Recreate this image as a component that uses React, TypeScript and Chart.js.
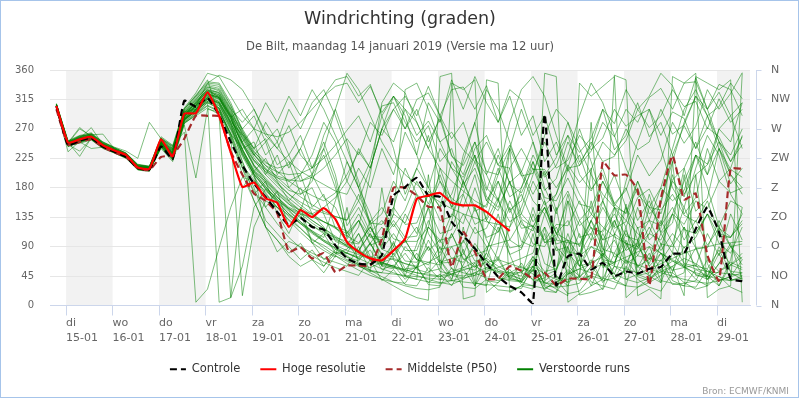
import React, { useEffect, useRef } from 'react';
import { Chart, registerables } from 'chart.js';

Chart.register(...registerables);

const titleText = 'Windrichting (graden)';
const subtitleText = 'De Bilt, maandag 14 januari 2019 (Versie ma 12 uur)';
const creditText = 'Bron: ECMWF/KNMI';

const dayNames = ['di', 'wo', 'do', 'vr', 'za', 'zo', 'ma', 'di', 'wo', 'do', 'vr', 'za', 'zo', 'ma', 'di'];
const dayDates = ['15-01', '16-01', '17-01', '18-01', '19-01', '20-01', '21-01', '22-01', '23-01', '24-01', '25-01', '26-01', '27-01', '28-01', '29-01'];
const dirLabels = ['N', 'NO', 'O', 'ZO', 'Z', 'ZW', 'W', 'NW', 'N'];

// hours relative to 15-01 00:00, 6-hourly output
const firstHour = -5;
const stepHours = 6;

const controle = [305,245,252,256,243,235,227,210,208,243, 224,313,304,317,291,250,214,186,166,143, 123,134,120,116,92,72,64,63,77,168, 181,195,168,166,128,107,87,64,44,30, 20,4,292,31,75,79,55,65,45,52, 49,56,59,79,80,117,150,112,41,37];
const hogeResolutie = [305,249,254,258,245,237,230,211,209,254, 228,293,294,326,290,234,181,188,164,157, 120,146,135,149,132,97,82,72,69,84, 102,163,168,172,157,153,153,143,128,114];
const middelste = [300,246,250,254,242,234,227,210,207,227, 230,255,290,290,289,235,200,171,160,141, 82,89,72,80,51,61,61,61,102,180, 180,168,151,149,59,112,82,41,41,60, 53,41,50,31,41,41,41,220,199,200, 176,31,163,229,162,171,77,38,209,209];

const run01 = [308,250,256,260,246,238,231,213,211,250, 231,296,300,322,301,262,214,192,170,150, 131,118,100,92,80,70,62,58,66,72, 64,58,90,52,48,45,50,42,38,45, 52,60,48,40,36,44,58,62,48,40, 35,42,55,68,60,48,40,52,66,58];
const run02 = [302,244,251,255,242,235,227,209,207,244, 228,288,312,330,318,280,238,205,182,160, 148,140,135,128,120,98,70,85,55,62, 40,58,35,48,30,62,95,68,55,48, 40,70,32,45,35,80,130,160,110,95, 60,45,70,38,30,55,45,90,62,80];
const run03 = [306,248,258,262,248,240,232,215,212,258, 245,265,5,25,88,150,196,190,175,160, 140,125,112,100,92,84,78,70,64,60, 55,50,48,45,52,58,66,72,60,50, 45,110,38,50,160,70,30,68,60,155, 48,40,95,42,50,200,64,30,62,55];
const run04 = [304,246,250,258,245,237,229,210,208,246, 224,282,298,312,5,12,60,150,178,165, 150,142,130,118,104,90,80,72,65,58, 52,46,40,35,32,40,50,58,50,44, 36,30,26,35,48,56,50,42,36,30, 28,35,46,60,72,64,52,44,38,45];
const run05 = [305,247,254,256,243,236,228,212,210,250, 236,300,320,345,290,12,180,205,190,170, 155,145,140,150,165,190,240,210,270,250, 300,280,240,290,230,200,250,180,160,210, 140,120,160,90,70,110,60,80,48,95, 60,70,130,95,150,110,140,95,80,120];
const run06 = [303,245,252,254,241,234,226,208,206,242, 222,278,292,310,300,260,15,120,160,150, 138,125,110,98,88,80,74,96,60,56, 90,70,120,96,140,125,180,130,165,100, 88,120,64,55,90,42,70,35,60,48, 90,64,110,80,58,88,40,64,95,40];
const run07 = [307,249,255,259,247,239,230,214,212,252, 238,302,325,355,350,320,290,270,262,258, 265,280,300,320,335,340,310,335,295,320, 280,250,275,220,240,185,210,160,190,142, 170,128,150,110,130,90,120,76,100,65, 95,60,80,52,90,60,110,76,140,100];
const run08 = [300,243,249,262,250,242,236,225,280,255, 240,284,305,340,352,345,330,300,265,240, 220,205,195,185,175,170,210,180,240,200, 265,230,310,280,345,300,350,310,280,320, 260,290,220,250,205,230,178,200,152,180, 130,160,112,140,100,130,92,118,105,125];
const run09 = [309,252,260,264,250,241,233,216,213,256, 242,292,310,332,325,296,250,215,195,175, 160,145,130,118,106,94,84,74,66,60, 54,50,46,44,48,54,60,66,70,64, 58,52,120,42,40,44,210,58,66,74, 82,90,80,68,58,50,45,40,38,42];
const run10 = [301,245,248,253,240,233,225,207,205,240, 220,276,195,300,296,262,240,205,225,190, 160,180,140,120,90,80,72,64,56,50, 44,40,36,34,38,42,46,52,58,65, 72,80,140,94,100,60,90,82,150,68, 62,56,50,45,40,36,34,38,44,50];
const run11 = [306,249,272,258,246,238,230,212,209,248, 232,290,304,318,308,272,232,200,180,162, 148,136,122,110,100,92,120,200,310,340, 325,280,240,210,190,175,160,150,200,280, 330,350,320,260,210,170,140,120,105,95, 90,110,160,220,280,320,300,250,200,170];
const run12 = [304,247,251,257,244,236,229,211,208,247, 230,285,296,315,310,278,250,270,230,250, 210,240,200,230,180,106,130,95,120,90, 140,110,175,150,220,190,240,260,215,245, 205,170,205,145,175,130,150,100,130,95, 86,120,84,110,88,104,140,120,160,150];
const run13 = [305,246,253,256,245,237,229,211,210,249, 234,295,314,334,328,300,280,300,260,240, 275,230,210,250,200,122,150,112,130,102, 96,120,84,100,72,66,90,54,70,42, 36,55,24,40,18,22,45,40,80,64, 76,110,100,140,124,160,148,190,172,180];
const run14 = [303,245,250,255,243,235,227,210,207,245, 227,283,300,316,300,256,210,175,150,125, 104,88,76,66,58,52,46,70,38,55, 32,30,58,40,48,56,30,58,52,46, 40,75,30,28,52,38,46,24,60,56, 50,80,38,34,30,28,55,38,44,70];
const run15 = [307,248,256,259,246,238,231,213,211,251, 237,298,318,338,335,305,270,240,220,205, 190,178,168,160,172,200,235,210,270,300, 320,290,335,290,255,280,225,200,240,185, 172,210,165,160,195,155,150,190,150,120, 165,178,140,192,210,250,200,270,290,240];
const run16 = [302,244,252,254,242,234,226,208,206,243, 225,280,294,306,298,264,220,170,190,140, 110,150,96,70,82,74,68,95,62,58, 54,80,52,56,110,70,78,84,130,88, 92,150,96,100,170,104,110,150,118,128, 190,140,155,230,170,200,215,250,230,270];
const run17 = [306,250,259,261,248,240,232,214,212,254, 240,296,308,328,322,292,240,250,200,230, 180,200,150,170,118,106,96,120,86,78, 100,70,62,90,56,50,46,70,42,40, 65,38,42,90,48,56,64,110,74,86, 150,100,118,200,140,165,240,190,210,260];
const run18 = [305,247,254,257,245,236,228,210,208,246, 229,287,302,320,315,285,248,222,208,198, 192,190,196,210,230,255,230,280,260,300, 270,315,325,290,330,334,300,336,280,330, 315,260,290,230,260,200,175,210,155,140, 180,130,122,150,116,110,140,106,104,130];
const run19 = [304,246,254,258,244,236,229,211,209,249, 232,291,306,324,318,288,230,200,150,175, 120,140,95,110,80,86,110,68,62,90, 56,58,100,66,72,78,120,90,95,100, 130,94,90,120,82,78,110,70,66,100, 58,90,52,50,120,46,44,80,40,38];
const run20 = [303,246,251,255,243,235,227,209,207,244, 226,284,298,312,305,275,238,208,186,166, 148,134,122,112,104,98,94,120,92,140, 330,340,300,250,210,180,230,160,145,190, 132,120,150,110,100,92,130,86,80,115, 76,72,68,95,64,60,56,85,52,50];
const run21 = [306,248,270,259,246,238,230,212,210,250, 235,294,312,330,324,294,255,222,200,182, 164,150,138,128,120,114,80,130,60,98, 45,94,150,70,40,86,30,82,140,78, 35,60,110,45,30,72,160,90,40,55, 120,60,35,80,200,90,45,30,70,150];
const run22 = [305,249,228,256,245,237,229,212,209,248, 231,288,304,322,316,286,246,214,192,174, 158,144,200,260,300,250,180,220,290,240, 170,210,260,190,150,230,280,200,160,240, 300,250,180,140,210,270,220,160,120,190, 250,300,240,180,150,210,260,230,170,140];
const run23 = [302,243,250,254,241,233,225,208,206,242, 224,279,290,302,292,258,200,160,120,100, 75,60,70,50,76,68,60,54,50,48, 46,44,42,40,38,36,34,32,30,28, 26,60,22,20,90,16,20,26,110,40, 48,56,64,72,80,86,90,94,96,98];
const run24 = [308,251,258,263,249,241,233,215,213,255, 243,300,322,342,340,310,268,236,214,196, 180,166,154,144,136,130,160,126,124,150, 124,126,170,130,136,190,144,154,210,166, 180,230,196,214,260,234,256,300,278,330, 300,320,355,336,290,348,300,326,290,310];
const run25 = [304,246,252,257,244,236,228,210,208,246, 229,286,300,318,312,282,260,230,250,200, 220,170,180,140,98,90,84,110,78,74, 100,70,66,62,90,58,54,80,52,50, 50,75,52,56,110,60,66,74,130,84, 96,170,110,126,210,144,164,240,186,210];
const run26 = [306,247,255,258,246,238,230,212,210,249, 233,292,308,326,320,290,265,240,255,215, 230,190,200,165,150,110,140,106,104,130, 104,106,150,110,116,170,124,134,190,146, 160,220,176,194,250,214,236,280,258,300, 280,318,332,300,340,342,300,338,330,290];
const run27 = [305,248,254,257,245,237,229,211,209,248, 232,290,306,324,318,288,248,214,192,172, 155,140,126,114,102,92,84,110,76,70, 64,60,120,210,160,80,60,50,75,40, 38,60,34,34,55,40,46,80,64,110, 90,150,124,190,166,230,216,270,250,310];
const run28 = [307,250,257,261,262,239,231,213,211,252, 239,297,316,336,332,302,262,230,210,192, 176,170,190,240,300,355,330,290,250,220, 200,185,170,158,148,140,134,128,124,120, 150,200,260,300,280,240,200,170,150,130, 110,95,80,70,62,56,52,50,48,46];
const run29 = [303,235,251,256,243,235,227,209,207,245, 227,284,298,314,306,272,234,202,178,156, 136,118,102,88,76,64,54,46,40,36, 34,60,32,30,58,28,26,40,24,22, 30,55,28,20,48,70,36,30,25,60, 40,28,22,50,35,25,30,45,28,20];
const run30 = [306,249,256,258,246,238,230,212,210,250, 234,292,310,328,322,292,270,290,250,270, 230,260,210,240,190,102,130,92,100,140, 126,170,150,190,164,150,200,130,112,150, 98,90,120,84,90,130,100,115,150,142, 190,150,146,170,138,128,160,110,104,140];
const run31 = [304,247,253,256,244,236,228,210,208,247, 230,289,304,322,318,290,256,230,214,204, 200,202,210,225,245,268,290,250,305,310, 270,300,250,285,228,214,250,205,200,240, 198,202,250,210,222,260,238,256,300,274, 290,300,260,296,286,240,272,258,220,246];
const run32 = [305,246,252,258,244,237,229,211,209,247, 231,287,302,320,312,280,238,200,120,82, 98,90,80,72,66,60,90,52,50,80, 52,58,66,76,110,72,58,90,42,38, 36,70,46,54,100,76,90,76,62,120, 44,38,60,32,34,38,70,52,62,74];
const run33 = [307,249,256,260,247,239,231,213,211,251, 236,293,310,329,326,298,262,234,218,210, 215,240,280,320,345,350,320,338,290,320, 300,260,282,250,265,238,220,250,214,210, 240,208,208,180,210,214,250,220,228,270, 238,250,300,262,276,320,290,304,340,316];
const run34 = [303,246,236,255,243,235,227,210,207,245, 226,283,297,312,302,268,228,196,172,150, 130,112,96,84,74,150,60,52,180,70, 45,40,200,60,38,120,35,30,90,240, 50,40,35,150,60,45,280,70,40,30, 100,45,35,220,60,40,30,120,50,40];
const run35 = [308,251,259,262,249,241,233,215,212,256, 244,301,320,340,338,306,266,232,208,188, 170,154,140,128,118,110,130,104,100,125, 98,98,120,100,104,140,110,118,160,128, 140,190,154,170,215,188,208,250,230,252, 300,272,290,330,304,312,270,316,280,300];
const run36 = [301,244,249,254,241,234,226,208,206,242, 223,279,292,305,296,262,210,160,120,100, 80,95,70,60,86,80,110,75,71,95, 68,66,90,65,66,100,68,72,120,78, 86,140,96,108,160,122,138,190,156,176, 230,198,222,280,248,274,330,300,324,356];
const run37 = [306,248,255,272,246,238,230,212,210,250, 234,291,309,327,320,290,250,220,205,195, 190,200,230,280,250,190,160,210,270,320, 290,230,180,150,170,220,280,330,300,250, 200,160,140,170,230,290,340,310,260,210, 170,150,180,240,300,330,290,240,200,180];
const run38 = [304,246,253,257,244,236,228,210,208,246, 229,286,300,318,310,278,220,180,130,110, 90,70,85,60,80,80,72,95,66,60, 80,55,50,70,46,42,65,38,35,55, 32,30,50,28,30,34,60,38,42,70, 46,50,80,54,58,62,40,64,90,62];
const run39 = [305,247,254,258,245,237,229,211,209,249, 233,290,306,324,318,288,300,270,310,280, 320,290,330,300,260,220,180,140,86,110, 84,84,130,86,90,96,150,104,112,160, 118,122,100,124,122,160,118,112,140,106, 100,130,94,90,120,88,88,130,90,94];
const run40 = [302,245,250,240,242,234,226,209,207,243, 224,281,295,310,302,270,232,200,178,158, 140,126,114,104,160,220,180,120,90,150, 210,170,110,80,130,190,150,100,70,120, 180,220,160,110,80,60,100,160,200,150, 100,70,90,140,190,230,180,120,90,70];
const run41 = [306,250,257,261,247,239,231,213,211,252, 238,295,315,334,330,300,258,226,204,186, 170,158,148,141,136,131,170,128,150,120, 146,190,155,200,150,171,220,176,230,188, 204,250,199,226,280,219,244,300,238,260, 310,258,280,230,275,240,290,251,220,258];
const run42 = [304,247,252,257,244,236,228,210,208,246, 228,285,299,317,310,280,262,240,280,250, 300,270,310,330,290,240,190,124,140,190, 160,210,180,240,210,196,230,166,150,190, 124,114,150,100,96,94,130,100,108,150, 118,130,180,160,176,230,200,240,208,196];
const run43 = [305,248,255,258,245,237,229,211,209,248, 231,289,305,323,316,286,246,212,188,166, 146,128,112,98,86,74,62,50,40,30, 20,12,8,350,355,10,15,345,340,20, 30,25,355,350,5,18,30,40,352,345, 15,25,10,350,340,355,12,25,30,355];
const run44 = [303,246,252,256,243,235,227,209,207,245, 227,284,299,316,308,276,236,204,182,162, 144,128,114,100,88,76,64,54,44,36, 30,26,24,28,340,330,345,20,35,50, 60,48,36,25,15,340,320,335,350,12, 28,40,52,60,15,350,340,330,345,5];

const verstoordeRuns = [run01, run02, run03, run04, run05, run06, run07, run08, run09, run10, run11, run12, run13, run14, run15, run16, run17, run18, run19, run20, run21, run22, run23, run24, run25, run26, run27, run28, run29, run30, run31, run32, run33, run34, run35, run36, run37, run38, run39, run40, run41, run42, run43, run44];

const FONT = "'DejaVu Sans', sans-serif";

function toPoints(vals: number[]) {
  return vals.map((v, i) => ({ x: firstHour + stepHours * i, y: v }));
}

const bandsPlugin = {
  id: 'dayBands',
  beforeDraw(chart: any) {
    const { ctx, chartArea, scales } = chart;
    const xs = scales.x;
    ctx.save();
    ctx.fillStyle = '#f2f2f2';
    dayDates.forEach((_, k) => {
      if (k % 2 !== 0) return;
      let x0 = xs.getPixelForValue(24 * k);
      let x1 = xs.getPixelForValue(24 * (k + 1));
      x0 = Math.max(x0, chartArea.left);
      x1 = Math.min(x1, chartArea.right);
      if (x1 > x0) ctx.fillRect(x0, chartArea.top, x1 - x0, chartArea.bottom - chartArea.top);
    });
    ctx.restore();
  },
  afterDraw(chart: any) {
    const { ctx, chartArea, scales, width } = chart;
    ctx.save();
    const y2 = scales.y2;
    const ax = chartArea.right + 6.5;
    ctx.strokeStyle = '#ccd6eb';
    ctx.lineWidth = 1;
    ctx.beginPath();
    ctx.moveTo(ax, chartArea.top);
    ctx.lineTo(ax, chartArea.bottom);
    dirLabels.forEach((_, k) => {
      const py = Math.round(y2.getPixelForValue(45 * k)) + 0.5;
      ctx.moveTo(ax, py);
      ctx.lineTo(ax + 5, py);
    });
    ctx.stroke();
    ctx.textAlign = 'center';
    ctx.textBaseline = 'middle';
    ctx.fillStyle = '#333333';
    ctx.font = `17.5px ${FONT}`;
    ctx.fillText(titleText, width / 2, 19);
    ctx.fillStyle = '#555555';
    ctx.font = `11.6px ${FONT}`;
    ctx.fillText(subtitleText, width / 2, 47);
    ctx.textAlign = 'right';
    ctx.fillStyle = '#999999';
    ctx.font = `9px ${FONT}`;
    ctx.fillText(creditText, 789, 392);
    ctx.restore();
  },
};

const legendItems = [
  { text: 'Controle', strokeStyle: '#000000', fillStyle: '#000000', lineWidth: 2, lineDash: [7, 4], datasetIndex: 1 },
  { text: 'Hoge resolutie', strokeStyle: '#ff0000', fillStyle: '#ff0000', lineWidth: 2, lineDash: [], datasetIndex: 0 },
  { text: 'Middelste (P50)', strokeStyle: '#a52a2a', fillStyle: '#a52a2a', lineWidth: 2, lineDash: [7, 4], datasetIndex: 2 },
  { text: 'Verstoorde runs', strokeStyle: '#008000', fillStyle: '#008000', lineWidth: 2, lineDash: [], datasetIndex: 3 },
];

export default function App() {
  const canvasRef = useRef<HTMLCanvasElement | null>(null);

  useEffect(() => {
    document.body.style.margin = '0';
    const canvas = canvasRef.current;
    if (!canvas) return;
    Chart.defaults.font.family = FONT;

    const datasets: any[] = [
      {
        label: 'Hoge resolutie',
        data: toPoints(hogeResolutie),
        borderColor: '#ff0000',
        borderWidth: 2.2,
        pointRadius: 0,
        tension: 0.15,
        fill: false,
      },
      {
        label: 'Controle',
        data: toPoints(controle),
        borderColor: '#000000',
        borderWidth: 2.2,
        borderDash: [7, 4],
        pointRadius: 0,
        tension: 0.15,
        fill: false,
      },
      {
        label: 'Middelste (P50)',
        data: toPoints(middelste),
        borderColor: '#a52a2a',
        borderWidth: 2.2,
        borderDash: [7, 4],
        pointRadius: 0,
        tension: 0.15,
        fill: false,
      },
      ...verstoordeRuns.map((run) => ({
        label: 'Verstoorde runs',
        data: toPoints(run),
        borderColor: 'rgba(0,128,0,0.5)',
        borderWidth: 1,
        pointRadius: 0,
        tension: 0,
        fill: false,
      })),
    ];

    const chart = new Chart(canvas, {
      type: 'line',
      data: { datasets },
      plugins: [bandsPlugin],
      options: {
        responsive: false,
        animation: false,
        events: [],
        layout: { padding: { top: 70, left: 0, right: 0, bottom: 15 } },
        plugins: {
          title: { display: false },
          tooltip: { enabled: false },
          legend: {
            position: 'bottom',
            labels: {
              usePointStyle: true,
              pointStyle: 'line',
              pointStyleWidth: 16,
              padding: 20,
              color: '#333333',
              font: { size: 11.5, family: FONT },
              generateLabels: () =>
                legendItems.map((it) => ({
                  ...it,
                  pointStyle: 'line',
                  fontColor: '#333333',
                  hidden: false,
                })),
            },
          },
        },
        scales: {
          x: {
            type: 'linear',
            min: -8.3,
            max: 353,
            afterBuildTicks: (s: any) => {
              s.ticks = dayDates.map((_, k) => ({ value: 24 * k }));
            },
            afterFit: (s: any) => {
              s.height = 38;
            },
            grid: {
              display: true,
              drawOnChartArea: false,
              drawTicks: true,
              tickLength: 10,
              color: '#ccd6eb',
            },
            border: { display: true, color: '#ccd6eb' },
            ticks: {
              align: 'start',
              padding: 0,
              autoSkip: false,
              maxRotation: 0,
              minRotation: 0,
              color: '#666666',
              font: { size: 11, lineHeight: 1.35, family: FONT },
              callback: (value: any) => {
                const k = Math.round(Number(value) / 24);
                return [dayNames[k], dayDates[k]];
              },
            },
          },
          y: {
            type: 'linear',
            position: 'left',
            min: 0,
            max: 360,
            afterFit: (s: any) => {
              s.width = 50;
            },
            grid: { color: '#e6e6e6', drawTicks: false },
            border: { display: false },
            ticks: {
              stepSize: 45,
              padding: 16,
              color: '#666666',
              font: { size: 10, family: FONT },
            },
          },
          y2: {
            type: 'linear',
            position: 'right',
            min: 0,
            max: 360,
            afterFit: (s: any) => {
              s.width = 50;
            },
            grid: { display: false, drawTicks: false },
            border: { display: false },
            ticks: {
              stepSize: 45,
              padding: 21,
              color: '#666666',
              font: { size: 11, family: FONT },
              callback: (value: any) => dirLabels[Math.round(Number(value) / 45)],
            },
          },
        },
      },
    } as any);

    return () => {
      chart.destroy();
    };
  }, []);

  return (
    <div style={{ position: 'relative', width: 800, height: 400, background: '#ffffff' }}>
      <canvas ref={canvasRef} width={800} height={400} style={{ width: 800, height: 400, display: 'block' }} />
      <div
        style={{
          position: 'absolute',
          left: 0,
          top: 0,
          width: 799,
          height: 398,
          boxSizing: 'border-box',
          border: '1px solid #a6c4ea',
          pointerEvents: 'none',
        }}
      />
    </div>
  );
}
